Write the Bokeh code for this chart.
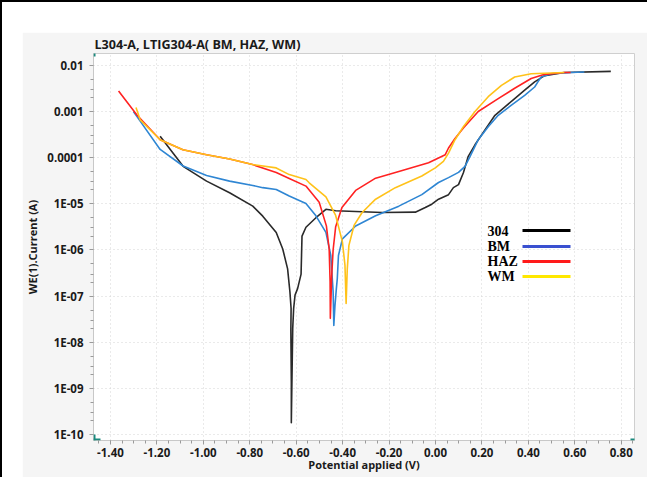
from bokeh.plotting import figure
from bokeh.models import (Range1d, FixedTicker, NumeralTickFormatter, CustomJSTickFormatter,
                          Label, BoxAnnotation)
from bokeh.layouts import column
from bokeh.embed import file_html
from bokeh.resources import INLINE

# ---------------- data (potential V, current A) ----------------
e_304 = [-1.186, -1.087, -0.986, -0.887, -0.787, -0.744, -0.686, -0.658, -0.637, -0.627, -0.622,
         -0.623, -0.621, -0.621, -0.615, -0.611, -0.605, -0.594, -0.579, -0.575, -0.558, -0.515,
         -0.472, -0.430, -0.230, -0.087, -0.044, -0.016, 0.013, 0.056, 0.077, 0.099, 0.120, 0.141,
         0.170, 0.213, 0.256, 0.299, 0.341, 0.384, 0.427, 0.470, 0.555, 0.755]
i_304 = [2.9e-4, 6.5e-5, 3.1e-5, 1.74e-5, 8.9e-6, 5.4e-6, 2.4e-6, 1.05e-6, 3.9e-7, 1.23e-7, 5.4e-8,
         1.8e-8, 1.4e-9, 1.8e-10, 2.0e-8, 5.4e-8, 1.05e-7, 1.45e-7, 3.0e-7, 2.0e-6, 3.1e-6, 5.0e-6,
         7.6e-6, 7.1e-6, 6.5e-6, 6.6e-6, 8.3e-6, 9.8e-6, 1.26e-5, 1.58e-5, 2.24e-5, 2.6e-5, 4.7e-5, 1.07e-4,
         1.9e-4, 4.0e-4, 8.3e-4, 1.26e-3, 1.9e-3, 2.9e-3, 4.4e-3, 6.0e-3, 7.0e-3, 7.4e-3]

e_bm = [-1.301, -1.272, -1.186, -1.087, -0.986, -0.887, -0.787, -0.744, -0.686, -0.630, -0.558,
        -0.515, -0.472, -0.451, -0.441, -0.438, -0.433, -0.427, -0.423, -0.418, -0.401, -0.344,
        -0.258, -0.158, -0.059, 0.013, 0.056, 0.099, 0.127, 0.149, 0.184, 0.227, 0.270, 0.327,
        0.384, 0.427, 0.441, 0.455, 0.498, 0.584, 0.641]
i_bm = [1.0e-3, 6.2e-4, 1.51e-4, 6.6e-5, 4.1e-5, 3.1e-5, 2.5e-5, 2.24e-5, 2.04e-5, 1.48e-5, 1.02e-5,
        5.5e-6, 2.4e-6, 7.6e-7, 1.26e-7, 2.3e-8, 6.3e-8, 1.45e-7, 2.4e-7, 7.6e-7, 1.74e-6, 3.3e-6,
        5.5e-6, 8.9e-6, 1.58e-5, 2.9e-5, 3.7e-5, 4.8e-5, 6.5e-5, 1.07e-4, 2.45e-4, 4.7e-4, 8.3e-4, 1.38e-3,
        2.24e-3, 3.4e-3, 4.4e-3, 5.6e-3, 6.6e-3, 7.0e-3, 7.2e-3]

e_haz = [-1.365, -1.286, -1.186, -1.088, -0.986, -0.887, -0.788, -0.686, -0.630, -0.558, -0.501,
         -0.470, -0.458, -0.454, -0.453, -0.447, -0.441, -0.430, -0.403, -0.344, -0.258, -0.158,
         -0.030, 0.042, 0.056, 0.084, 0.120, 0.184, 0.270, 0.341, 0.412, 0.470, 0.555, 0.582]
i_haz = [2.8e-3, 8.4e-4, 2.44e-4, 1.49e-4, 1.16e-4, 9.4e-5, 7.1e-5, 4.75e-5, 3.53e-5, 2.42e-5, 1.08e-5,
         3.33e-6, 1.05e-6, 2.05e-7, 3.3e-8, 2.8e-7, 1.0e-6, 3.2e-6, 8.3e-6, 1.95e-5, 3.6e-5, 5.0e-5,
         7.8e-5, 1.16e-4, 1.62e-4, 2.6e-4, 4.4e-4, 1.0e-3, 1.9e-3, 3.2e-3, 5.2e-3, 6.4e-3, 7.0e-3, 7.0e-3]

e_wm = [-1.290, -1.272, -1.186, -1.088, -0.986, -0.887, -0.788, -0.686, -0.630, -0.558, -0.544,
        -0.472, -0.430, -0.401, -0.390, -0.385, -0.380, -0.373, -0.351, -0.316, -0.258, -0.173,
        -0.059, -0.001, 0.034, 0.056, 0.084, 0.120, 0.170, 0.227, 0.284, 0.341, 0.412, 0.555]
i_wm = [1.23e-3, 6.6e-4, 2.44e-4, 1.49e-4, 1.16e-4, 9.4e-5, 7.1e-5, 6.0e-5, 4.3e-5, 3.37e-5, 2.86e-5,
        1.41e-5, 5.6e-6, 1.5e-6, 4.7e-7, 6.9e-8, 3.9e-7, 1.26e-6, 3.4e-6, 6.5e-6, 1.26e-5, 2.24e-5,
        4.0e-5, 6.0e-5, 8.3e-5, 1.26e-4, 2.45e-4, 4.7e-4, 1.0e-3, 2.1e-3, 3.7e-3, 5.6e-3, 6.6e-3, 7.0e-3]

series_names = ["304", "BM", "HAZ", "WM"]
x_ticks = [-1.4, -1.2, -1.0, -0.8, -0.6, -0.4, -0.2, 0.0, 0.2, 0.4, 0.6, 0.8]
y_ticks = [1e-10, 1e-9, 1e-8, 1e-7, 1e-6, 1e-5, 1e-4, 1e-3, 1e-2]

curve_colors = ["#2a2a2a", "#2f86d3", "#ff2222", "#ffc21a"]
legend_colors = ["#000000", "#3a50d0", "#ff1a1a", "#ffe800"]

FONT = "Open Sans"

W, H = 625, 445
ML, MR, MT, MB = 68, 13, 18, 37
FW, FH = W - ML - MR, H - MT - MB

p = figure(width=W, height=H, output_backend="svg", toolbar_location=None,
           y_axis_type="log",
           x_range=Range1d(-1.473, 0.857), y_range=Range1d(7.43e-11, 1.81e-2),
           title="L304-A, LTIG304-A( BM, HAZ, WM)",
           min_border_left=ML, min_border_right=MR, min_border_top=MT, min_border_bottom=MB)

p.background_fill_color = "white"
p.border_fill_color = "#f5f5f5"
p.outline_line_color = "#cfcfcf"
p.outline_line_width = 1

p.title.text_font = FONT
p.title.text_font_size = "12.6px"
p.title.text_font_style = "bold"
p.title.text_color = "#1a1a1a"
p.title.offset = 1
p.title.standoff = 2


def sbox(l, r, b, t, color, level="overlay"):
    # frame-relative screen coordinates (x right, y up from frame bottom)
    p.add_layout(BoxAnnotation(left=l, right=r, bottom=b, top=t,
                               left_units="screen", right_units="screen",
                               bottom_units="screen", top_units="screen",
                               fill_color=color, fill_alpha=1.0, line_color=None, level=level))


# axes
xa = p.xaxis[0]
xa.ticker = FixedTicker(ticks=x_ticks,
                        minor_ticks=[round(-1.45 + 0.05 * k, 2) for k in range(47)])
xa.formatter = NumeralTickFormatter(format="0.00")
xa.axis_label = "Potential applied (V)"

ya = p.yaxis[0]
minor_y = []
for d in range(-11, -1):
    for m in (2, 3, 5):
        minor_y.append(m * 10.0 ** d)
ya.ticker = FixedTicker(ticks=y_ticks, minor_ticks=minor_y)
ya.formatter = CustomJSTickFormatter(code="""
const e = Math.round(Math.log10(tick));
if (e >= -4) { return tick.toFixed(-e); }
return "1E-" + String(-e).padStart(2, "0");
""")
ya.axis_label = "WE(1).Current (A)"

for ax in (xa, ya):
    ax.axis_line_color = "#c8c8c8"
    ax.major_tick_line_color = "#9a9a9a"
    ax.minor_tick_line_color = "#9a9a9a"
    ax.major_tick_out = 4
    ax.major_tick_in = 0
    ax.minor_tick_out = 3
    ax.minor_tick_in = 0
    ax.major_label_text_font = FONT
    ax.major_label_text_font_size = "11.5px"
    ax.major_label_text_font_style = "bold"
    ax.major_label_text_color = "#1a1a1a"
    ax.axis_label_text_font = FONT
    ax.axis_label_text_font_size = "11px"
    ax.axis_label_text_font_style = "bold"
    ax.axis_label_text_color = "#1a1a1a"

xa.major_label_text_line_height = 0.9
xa.axis_label_text_line_height = 0.9
xa.major_label_standoff = 3
xa.axis_label_standoff = -3
ya.major_label_standoff = 6
ya.axis_label_standoff = 4

for g in (p.xgrid[0], p.ygrid[0]):
    g.grid_line_color = "#d4d4d4"
    g.grid_line_dash = "1 3"
    g.grid_line_width = 1

# curves
data = [(e_304, i_304), (e_bm, i_bm), (e_haz, i_haz), (e_wm, i_wm)]
for (ex, iy), c in zip(data, curve_colors):
    p.line(ex, iy, line_color=c, line_width=1.6, line_join="round")

# teal corner marks
TEAL = "#1b8a7e"
sbox(0, 2, FH - 6, FH, TEAL)
sbox(0, 2, 0, 6, TEAL)
sbox(0, 7, 0, 2, TEAL)
sbox(FW - 7, FW, 0, 2, TEAL)

# legend (label left, sample line right); rows in page pixels (frame top at 53)
leg_y = [233, 249, 264, 279]
for name, c, yy in zip(series_names, legend_colors, leg_y):
    ys = FH - (yy - 53)
    p.add_layout(Label(x=487 - 93, y=ys, x_units="screen", y_units="screen",
                       text=name, text_font="Liberation Serif", text_font_size="14px",
                       text_font_style="bold", text_color="black", text_baseline="middle"))
    sbox(522 - 93, 570 - 93, ys - 1.5, ys + 1.5, c)

page = column(p, styles={"border-top": "2px solid #000", "border-left": "2px solid #000",
                         "padding-left": "20px", "padding-top": "30px",
                         "margin-bottom": "-40px", "background-color": "white"})

open("out.html", "w").write(file_html(page, INLINE))
